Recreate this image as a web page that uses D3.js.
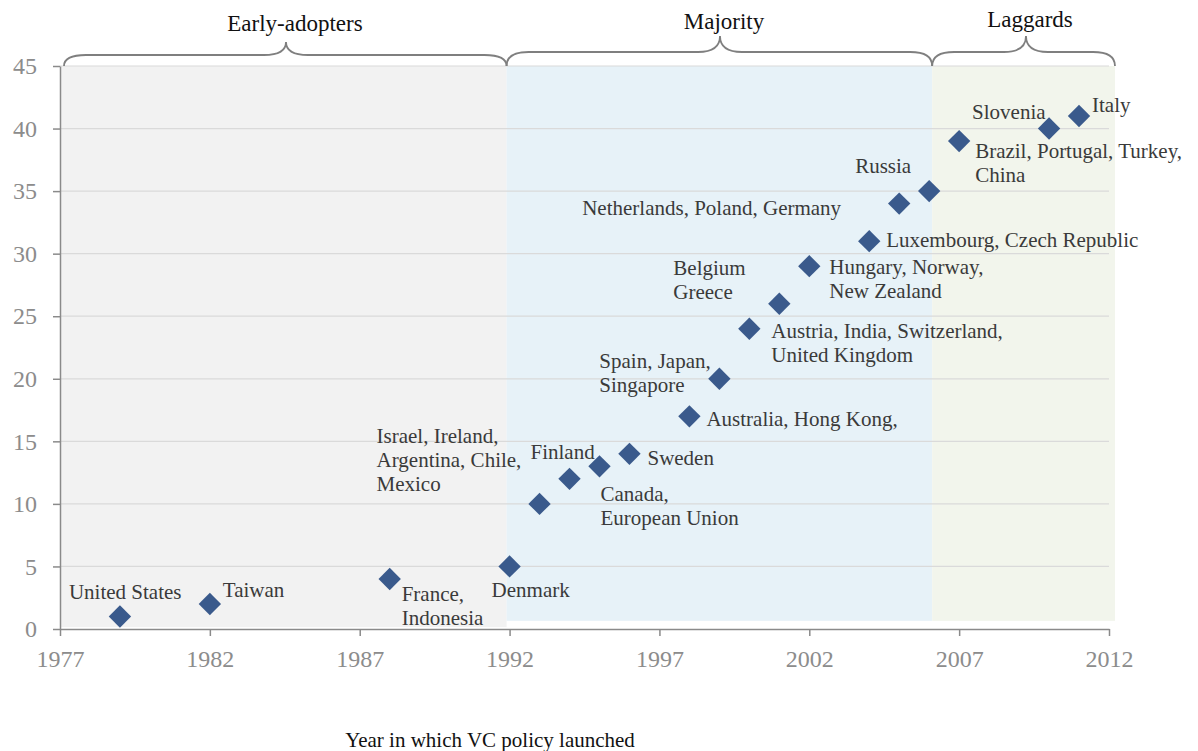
<!DOCTYPE html>
<html>
<head>
	<meta charset="utf-8">
	<script src="https://cdn.jsdelivr.net/npm/d3@7"></script>
	<style type="text/css">
		body { margin: 0; padding: 0; background: #fff; }
		.axis path, .axis line { stroke: #8a8a8a; stroke-width: 1.5; }
		.axis text { fill: #8c8c8c; font-size: 24px; }
	</style>
</head>
<body>
	<script type="text/javascript">

		// data
		var years  = [1979, 1982, 1988, 1992, 1993, 1994, 1995, 1996, 1998, 1999, 2000, 2001, 2002, 2004, 2005, 2006, 2007, 2010, 2011];
		var counts = [1, 2, 4, 5, 10, 12, 13, 14, 17, 20, 24, 26, 29, 31, 34, 35, 39, 40, 41];
		var labels = [
			["United States"], ["Taiwan"], ["France,", "Indonesia"], ["Denmark"],
			["Israel, Ireland,", "Argentina, Chile,", "Mexico"], ["Finland"],
			["Canada,", "European Union"], ["Sweden"], ["Australia, Hong Kong,"],
			["Spain, Japan,", "Singapore"], ["Austria, India, Switzerland,", "United Kingdom"],
			["Belgium", "Greece"], ["Hungary, Norway,", "New Zealand"], ["Luxembourg, Czech Republic"],
			["Netherlands, Poland, Germany"], ["Russia"], ["Brazil, Portugal, Turkey,", "China"],
			["Slovenia"], ["Italy"]
		];
		var groups     = ["Early-adopters", "Majority", "Laggards"];
		var groupStart = [1977, 1991.9, 2006.1];
		var groupEnd   = [1991.9, 2006.1, 2012.2];
		var xTicks = [1977, 1982, 1987, 1992, 1997, 2002, 2007, 2012];
		var yTicks = [0, 5, 10, 15, 20, 25, 30, 35, 40, 45];
		var xTitle = "Year in which VC policy launched";

		// label placement (offset of first baseline from the marker)
		var labelOffset = [
			[-51, -17], [13, -7], [12, 22], [-18, 31], [-163, -61], [-39, -20],
			[1, 35], [18, 11], [17, 10], [-120, -11], [22, 9], [-106, -29],
			[20, 8], [17, 6], [-317, 11], [-74, -18], [16, 17], [-77, -10], [13, -4]
		];
		var groupFill = ["#f2f2f2", "#e7f2f8", "#f2f5ec"];
		var groupBottom = [0.15, 0.65, 0.65];
		var braceFlat = [55, 52, 52], bracePeak = [42, 36, 36];
		var groupLabelX = [295, 724, 1030], groupLabelY = [31, 29, 27];

		var serif = "'Liberation Serif', 'DejaVu Serif', Times, serif";
		var W = 1198, H = 751;
		var svg = d3.select("body").append("svg").attr("width", W).attr("height", H)
			.style("font-family", serif);

		var x = d3.scaleLinear().domain([1977, 2012]).range([60, 1109]);
		var y = d3.scaleLinear().domain([0, 45]).range([629, 66]);

		// background bands
		svg.selectAll("rect.band").data(groups).enter().append("rect")
			.attr("class", "band")
			.attr("x", function(d, i){ return x(groupStart[i]); })
			.attr("width", function(d, i){ return x(groupEnd[i]) - x(groupStart[i]); })
			.attr("y", y(45))
			.attr("height", function(d, i){ return y(groupBottom[i]) - y(45); })
			.style("fill", function(d, i){ return groupFill[i]; });

		// grid
		svg.selectAll("line.grid").data(yTicks.slice(1)).enter().append("line")
			.attr("x1", x(1977)).attr("x2", x(2012))
			.attr("y1", function(d){ return y(d); }).attr("y2", function(d){ return y(d); })
			.style("stroke", "#dadada").style("stroke-width", 1.2);

		// axes
		var gx = svg.append("g").attr("class", "axis")
			.attr("transform", "translate(0," + y(0) + ")")
			.call(d3.axisBottom(x).tickValues(xTicks).tickFormat(d3.format("d")).tickSize(7).tickPadding(14).tickSizeOuter(0));
		var gy = svg.append("g").attr("class", "axis")
			.attr("transform", "translate(" + x(1977) + ",0)")
			.call(d3.axisLeft(y).tickValues(yTicks).tickSize(7).tickPadding(16).tickSizeOuter(0));
		gx.attr("font-family", null).attr("font-size", null);
		gy.attr("font-family", null).attr("font-size", null);

		// braces
		function brace(x0, x1, xm, yb, yf, yp){
			var r = 22;
			return "M" + x0 + "," + yb +
				"Q" + x0 + "," + yf + " " + (x0 + r) + "," + yf +
				"L" + (xm - r) + "," + yf +
				"Q" + xm + "," + yf + " " + xm + "," + yp +
				"Q" + xm + "," + yf + " " + (xm + r) + "," + yf +
				"L" + (x1 - r) + "," + yf +
				"Q" + x1 + "," + yf + " " + x1 + "," + yb;
		}
		svg.selectAll("path.brace").data(groups).enter().append("path")
			.attr("d", function(d, i){
				var x0 = Math.max(x(groupStart[i]), 64), x1 = x(groupEnd[i]);
				return brace(x0, x1, groupLabelX[i] - (i == 0 ? 9 : 4), y(45), braceFlat[i], bracePeak[i]);
			})
			.style("fill", "none").style("stroke", "#7f7f7f").style("stroke-width", 1.8);

		svg.selectAll("text.group").data(groups).enter().append("text")
			.attr("x", function(d, i){ return groupLabelX[i]; })
			.attr("y", function(d, i){ return groupLabelY[i]; })
			.attr("text-anchor", "middle")
			.style("font-size", "23px").style("fill", "#111")
			.text(function(d){ return d; });

		// points
		var pts = years.map(function(d, i){ return {year: d, n: counts[i], lab: labels[i], off: labelOffset[i]}; });

		svg.selectAll("path.pt").data(pts).enter().append("path")
			.attr("d", d3.symbol().type(d3.symbolSquare).size(250))
			.attr("transform", function(d){ return "translate(" + x(d.year) + "," + y(d.n) + ") rotate(45)"; })
			.style("fill", "#3a5a8c");

		var lab = svg.selectAll("text.lab").data(pts).enter().append("text")
			.attr("x", function(d){ return x(d.year) + d.off[0]; })
			.attr("y", function(d){ return y(d.n) + d.off[1]; })
			.style("font-size", "21px").style("fill", "#3a3a3a");
		lab.selectAll("tspan").data(function(d){ return d.lab.map(function(t){ return {t: t, x: x(d.year) + d.off[0]}; }); })
			.enter().append("tspan")
			.attr("x", function(d){ return d.x; })
			.attr("dy", function(d, i){ return i == 0 ? 0 : 24; })
			.text(function(d){ return d.t; });

		// axis title
		svg.append("text").attr("x", 490).attr("y", 747).attr("text-anchor", "middle")
			.style("font-size", "21px").style("fill", "#111").text(xTitle);

	</script>
</body>
</html>
